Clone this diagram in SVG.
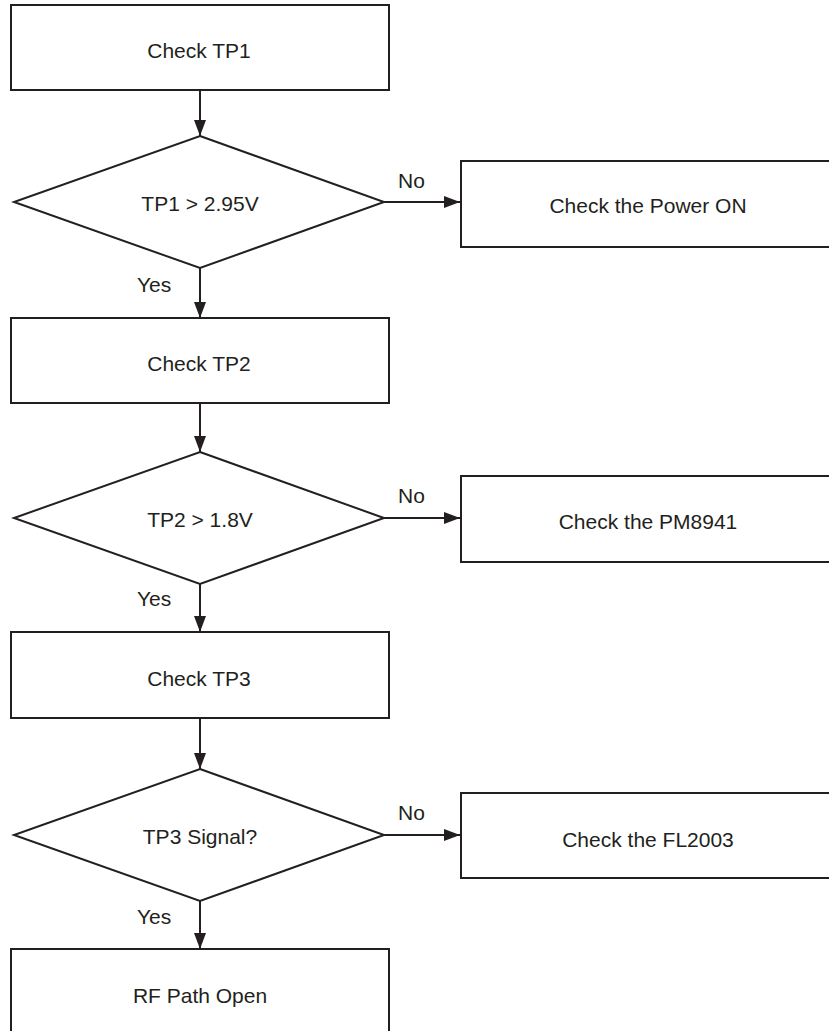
<svg xmlns="http://www.w3.org/2000/svg" width="829" height="1031" viewBox="0 0 829 1031">
  <defs>
    <style>
      .box { fill: #ffffff; stroke: #231f20; stroke-width: 2; }
      .line { fill: none; stroke: #231f20; stroke-width: 2; }
      .t { font-family: "Liberation Sans", Arial, sans-serif; font-size: 21px; fill: #231f20; text-anchor: middle; }
      .lbl { font-family: "Liberation Sans", Arial, sans-serif; font-size: 21px; fill: #231f20; text-anchor: start; }
    </style>
    <marker id="arrow" markerWidth="16" markerHeight="12" refX="16" refY="6" orient="auto" markerUnits="userSpaceOnUse">
      <path d="M0,0 L16,6 L0,12 Z" fill="#231f20"/>
    </marker>
  </defs>
  <rect width="829" height="1031" fill="#ffffff"/>

  <g id="connectors">
    <line class="line" x1="200" y1="90" x2="200" y2="136" marker-end="url(#arrow)"/>
    <line class="line" x1="384" y1="202" x2="460" y2="202" marker-end="url(#arrow)"/>
    <line class="line" x1="200" y1="268" x2="200" y2="318" marker-end="url(#arrow)"/>
    <line class="line" x1="200" y1="403" x2="200" y2="452" marker-end="url(#arrow)"/>
    <line class="line" x1="384" y1="518" x2="460" y2="518" marker-end="url(#arrow)"/>
    <line class="line" x1="200" y1="584" x2="200" y2="632" marker-end="url(#arrow)"/>
    <line class="line" x1="200" y1="718" x2="200" y2="769" marker-end="url(#arrow)"/>
    <line class="line" x1="384" y1="835" x2="460" y2="835" marker-end="url(#arrow)"/>
    <line class="line" x1="200" y1="901" x2="200" y2="949" marker-end="url(#arrow)"/>
    <text class="lbl" x="398" y="188">No</text>
    <text class="lbl" x="137" y="292">Yes</text>
    <text class="lbl" x="398" y="503">No</text>
    <text class="lbl" x="137" y="606">Yes</text>
    <text class="lbl" x="398" y="820">No</text>
    <text class="lbl" x="137" y="924">Yes</text>
  </g>

  <g id="check-tp1">
    <rect class="box" x="11" y="5" width="378" height="85"/>
    <text class="t" x="199" y="58">Check TP1</text>
  </g>
  <g id="tp1-decision">
    <polygon class="box" points="200,136 384,202 200,268 14,202"/>
    <text class="t" x="200" y="211">TP1 &gt; 2.95V</text>
  </g>
  <g id="check-power-on">
    <rect class="box" x="461" y="161" width="380" height="86"/>
    <text class="t" x="648" y="213">Check the Power ON</text>
  </g>
  <g id="check-tp2">
    <rect class="box" x="11" y="318" width="378" height="85"/>
    <text class="t" x="199" y="371">Check TP2</text>
  </g>
  <g id="tp2-decision">
    <polygon class="box" points="200,452 384,518 200,584 14,518"/>
    <text class="t" x="200" y="527">TP2 &gt; 1.8V</text>
  </g>
  <g id="check-pm8941">
    <rect class="box" x="461" y="476" width="380" height="86"/>
    <text class="t" x="648" y="529">Check the PM8941</text>
  </g>
  <g id="check-tp3">
    <rect class="box" x="11" y="632" width="378" height="86"/>
    <text class="t" x="199" y="686">Check TP3</text>
  </g>
  <g id="tp3-decision">
    <polygon class="box" points="200,769 384,835 200,901 14,835"/>
    <text class="t" x="200" y="844">TP3 Signal?</text>
  </g>
  <g id="check-fl2003">
    <rect class="box" x="461" y="793" width="380" height="85"/>
    <text class="t" x="648" y="847">Check the FL2003</text>
  </g>
  <g id="rf-path-open">
    <rect class="box" x="11" y="949" width="378" height="100"/>
    <text class="t" x="200" y="1003">RF Path Open</text>
  </g>
</svg>
